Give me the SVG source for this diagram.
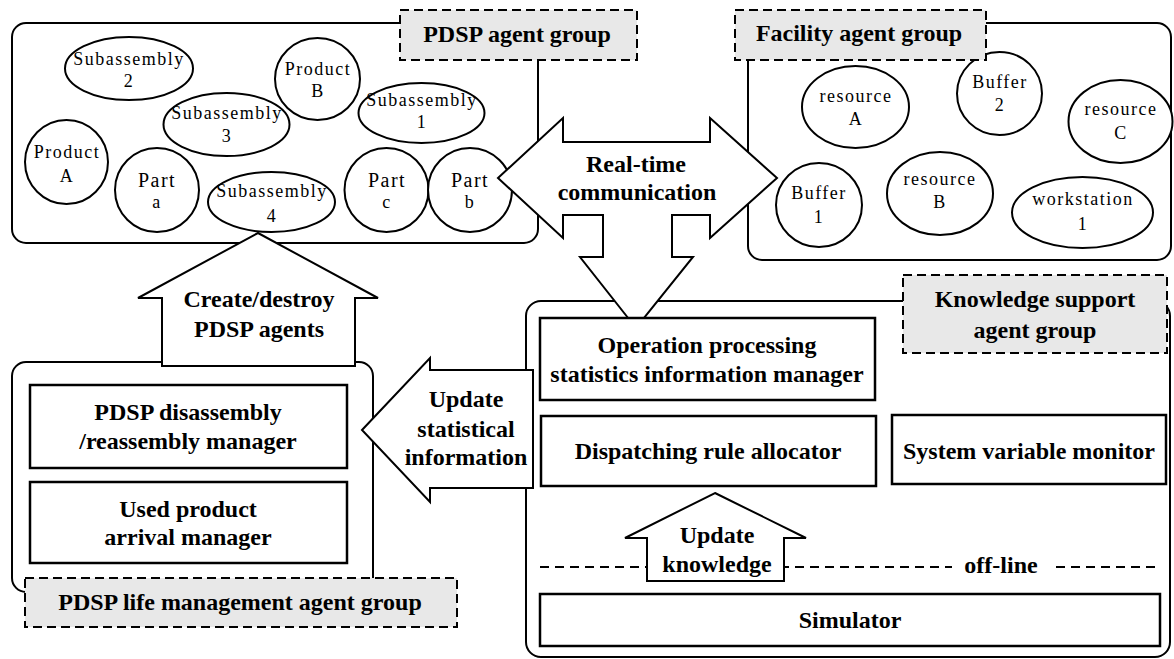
<svg xmlns="http://www.w3.org/2000/svg" width="1174" height="659" viewBox="0 0 1174 659">
  <style>
    .bg { fill: #ffffff; }
    .group { fill: #ffffff; stroke: #000; stroke-width: 2; }
    .label { fill: #e8e8e8; stroke: #000; stroke-width: 2; stroke-dasharray: 9 5; }
    .agent { fill: #ffffff; stroke: #000; stroke-width: 2; }
    .box { fill: #ffffff; stroke: #000; stroke-width: 2.5; }
    .arrow { fill: #ffffff; stroke: #000; stroke-width: 2; stroke-linejoin: miter; }
    .dash { fill: none; stroke: #000; stroke-width: 2; stroke-dasharray: 9 6; }
    .b { font-family: "Liberation Serif", "Times New Roman", serif; font-weight: bold; font-size: 24px; text-anchor: middle; fill: #000; }
    .r { font-family: "Liberation Serif", "Times New Roman", serif; font-size: 18px; letter-spacing: 1.5px; text-anchor: middle; fill: #000; }
    .p { font-size: 20px; }
  </style>
  <rect class="bg" x="0" y="0" width="1174" height="659"/>

  <!-- group containers -->
  <g id="pdsp-agent-group">
    <rect class="group" x="12" y="23" width="526" height="220" rx="14"/>
    <g id="subassembly-2"><ellipse class="agent" cx="129" cy="68.5" rx="64" ry="31.5"/><text class="r" x="129" y="65">Subassembly</text><text class="r" x="129" y="87">2</text></g>
    <g id="product-b"><ellipse class="agent" cx="317.5" cy="79" rx="42.5" ry="41"/><text class="r" x="318" y="75">Product</text><text class="r" x="318" y="97">B</text></g>
    <g id="subassembly-3"><ellipse class="agent" cx="226.5" cy="124.5" rx="63" ry="31.5"/><text class="r" x="227" y="119">Subassembly</text><text class="r" x="227" y="142">3</text></g>
    <g id="subassembly-1"><ellipse class="agent" cx="421.5" cy="113" rx="63" ry="30"/><text class="r" x="422" y="106">Subassembly</text><text class="r" x="422" y="128">1</text></g>
    <g id="product-a"><ellipse class="agent" cx="66.5" cy="162" rx="41.5" ry="42"/><text class="r" x="67" y="158">Product</text><text class="r" x="67" y="182">A</text></g>
    <g id="part-a"><ellipse class="agent" cx="157" cy="190" rx="42" ry="42"/><text class="r p" x="157" y="187">Part</text><text class="r" x="157" y="208">a</text></g>
    <g id="subassembly-4"><ellipse class="agent" cx="271.5" cy="202" rx="63.5" ry="30"/><text class="r" x="272" y="197">Subassembly</text><text class="r" x="272" y="222">4</text></g>
    <g id="part-c"><ellipse class="agent" cx="386.5" cy="190" rx="42" ry="42"/><text class="r p" x="387" y="187">Part</text><text class="r" x="387" y="208">c</text></g>
    <g id="part-b"><ellipse class="agent" cx="470" cy="190" rx="42" ry="42"/><text class="r p" x="470" y="187">Part</text><text class="r" x="470" y="208">b</text></g>
    <rect class="label" x="400" y="10" width="237" height="50"/>
    <text class="b" x="517" y="42">PDSP agent group</text>
  </g>

  <g id="facility-agent-group">
    <rect class="group" x="748" y="23" width="423" height="237" rx="14"/>
    <g id="resource-a"><ellipse class="agent" cx="855.5" cy="107" rx="53.5" ry="41"/><text class="r" x="856" y="102">resource</text><text class="r" x="856" y="125">A</text></g>
    <g id="buffer-2"><ellipse class="agent" cx="999.5" cy="93.5" rx="42.5" ry="41.5"/><text class="r" x="1000" y="88">Buffer</text><text class="r" x="1000" y="111">2</text></g>
    <g id="resource-c"><ellipse class="agent" cx="1120.5" cy="121.5" rx="52" ry="41.5"/><text class="r" x="1121" y="115">resource</text><text class="r" x="1121" y="139">C</text></g>
    <g id="buffer-1"><ellipse class="agent" cx="819" cy="205" rx="43" ry="42"/><text class="r" x="819" y="199">Buffer</text><text class="r" x="819" y="223">1</text></g>
    <g id="resource-b"><ellipse class="agent" cx="940" cy="193.5" rx="53" ry="41.5"/><text class="r" x="940" y="185">resource</text><text class="r" x="940" y="208">B</text></g>
    <g id="workstation-1"><ellipse class="agent" cx="1082.5" cy="212.5" rx="70.5" ry="35.5"/><text class="r" x="1083" y="205">workstation</text><text class="r" x="1083" y="230">1</text></g>
    <rect class="label" x="735" y="10" width="251" height="50"/>
    <text class="b" x="859" y="41">Facility agent group</text>
  </g>

  <g id="life-management-group">
    <rect class="group" x="12" y="362" width="361" height="230" rx="14"/>
  </g>

  <g id="knowledge-support-group">
    <rect class="group" x="526" y="301" width="644" height="356" rx="15"/>
  </g>

  <!-- connectors: block arrows between the groups -->
  <g id="connectors">
    <g id="real-time-communication">
      <polygon class="arrow" points="498,178 563,118 563,142 710,142 710,118 777,178 710,238 710,215 672,215 672,257 693,257 636,328 580,257 603,257 603,215 563,215 563,238"/>
      <text class="b" x="636" y="172">Real-time</text>
      <text class="b" x="637" y="200">communication</text>
    </g>
    <g id="create-destroy">
      <polygon class="arrow" points="258,233 378,298 355,298 355,366 162,366 162,298 138,298"/>
      <text class="b" x="259" y="307">Create/destroy</text>
      <text class="b" x="259" y="337">PDSP agents</text>
    </g>
    <g id="update-statistical">
      <polygon class="arrow" points="362,430 430,358 430,370 533,370 533,488 430,488 430,502"/>
      <text class="b" x="466" y="407">Update</text>
      <text class="b" x="466" y="437">statistical</text>
      <text class="b" x="466" y="465">information</text>
    </g>
  </g>

  <!-- life management members -->
  <g id="disassembly-manager">
    <rect class="box" x="30" y="385" width="317" height="83"/>
    <text class="b" x="188" y="420">PDSP disassembly</text>
    <text class="b" x="188" y="449">/reassembly manager</text>
  </g>
  <g id="arrival-manager">
    <rect class="box" x="30" y="482" width="317" height="81"/>
    <text class="b" x="188" y="517">Used product</text>
    <text class="b" x="188" y="545">arrival manager</text>
  </g>
  <g id="life-management-label">
    <rect class="label" x="25" y="578" width="432" height="49"/>
    <text class="b" x="240" y="610">PDSP life management agent group</text>
  </g>

  <!-- knowledge support members -->
  <g id="operation-statistics-manager">
    <rect class="box" x="540" y="318" width="335" height="82"/>
    <text class="b" x="707" y="353">Operation processing</text>
    <text class="b" x="707" y="382">statistics information manager</text>
  </g>
  <g id="dispatching-rule-allocator">
    <rect class="box" x="541" y="416" width="335" height="70"/>
    <text class="b" x="708" y="459">Dispatching rule allocator</text>
  </g>
  <g id="system-variable-monitor">
    <rect class="box" x="892" y="415" width="274" height="69"/>
    <text class="b" x="1029" y="459">System variable monitor</text>
  </g>
  <g id="offline-boundary">
    <line class="dash" x1="540" y1="567" x2="952" y2="567"/>
    <line class="dash" x1="1056" y1="567" x2="1160" y2="567"/>
    <text class="b" x="1001" y="573">off-line</text>
  </g>
  <g id="update-knowledge">
    <polygon class="arrow" points="715,493 806,538 784,538 784,581 647,581 647,538 625,538"/>
    <text class="b" x="717" y="543">Update</text>
    <text class="b" x="717" y="572">knowledge</text>
  </g>
  <g id="simulator">
    <rect class="box" x="540" y="594" width="620" height="52"/>
    <text class="b" x="850" y="628">Simulator</text>
  </g>
  <g id="knowledge-support-label">
    <rect class="label" x="903" y="275" width="264" height="78"/>
    <text class="b" x="1035" y="307">Knowledge support</text>
    <text class="b" x="1035" y="338">agent group</text>
  </g>
</svg>
